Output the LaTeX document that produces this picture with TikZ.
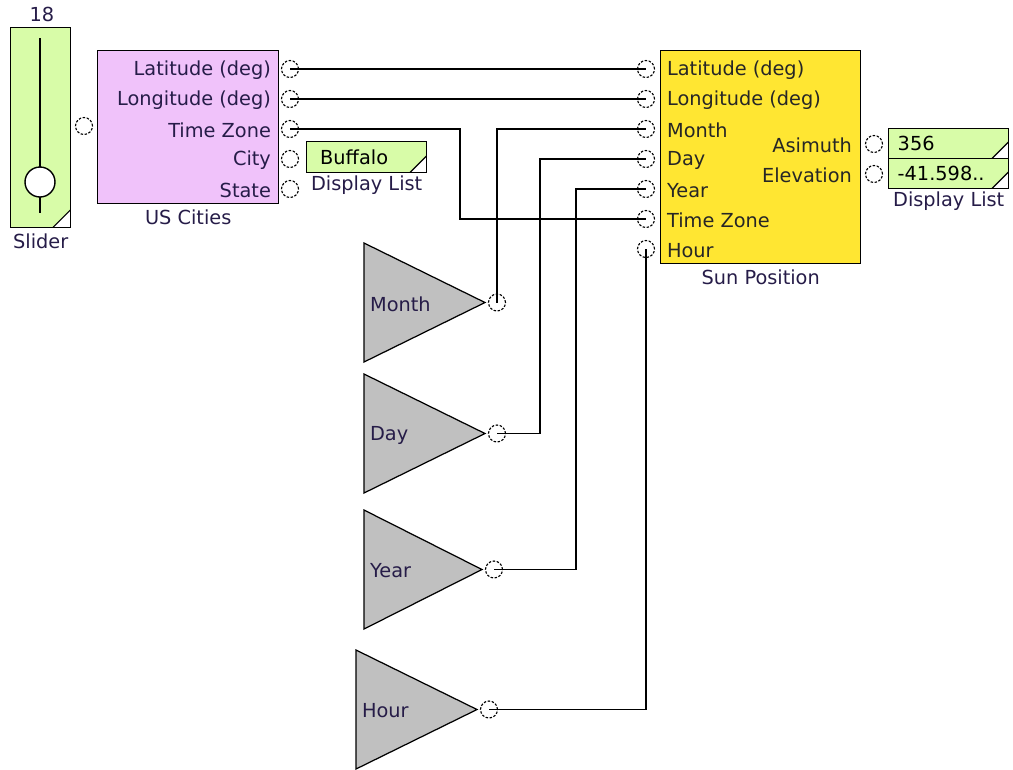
\documentclass[tikz,border=0pt]{standalone}
\usepackage{fontspec}
\setmainfont{DejaVu Sans}
\usetikzlibrary{calc,positioning}
\definecolor{sliderGreen}{RGB}{216,252,168}
\definecolor{cityPink}{RGB}{240,194,250}
\definecolor{sunYellow}{RGB}{255,230,50}
\definecolor{constGray}{RGB}{192,192,192}
\definecolor{labelInk}{RGB}{38,28,72}
\tikzset{blk/.style={draw,line width=0.8pt,inner sep=0pt,anchor=north west},
  corner/.style={path picture={\fill[white] (path picture bounding box.south east) -- ++(-#1,0cm) -- ++(#1,#1) -- cycle;
    \draw[line width=0.7pt] (path picture bounding box.south east) ++(-#1,0cm) -- ++(#1,#1);}},
  dispbox/.style={blk,fill=sliderGreen,corner=0.34cm,text width=2.4cm,font=\fontsize{11}{13}\selectfont,text=black,align=left},
  port/.style={circle,draw,fill=white,dash pattern=on 1.4pt off 0.9pt,line width=0.65pt,minimum size=0.34cm,inner sep=0pt},
  wire/.style={line width=0.8pt},
  lbl/.style={font=\fontsize{11}{13}\selectfont,inner sep=1pt,text=labelInk},
  konst/.style={draw,line width=0.7pt,fill=constGray}}

\begin{document}
\begin{tikzpicture}[x=0.02cm,y=-0.02cm]
\useasboundingbox (0,0) rectangle (1013,769);
% slider
\node[blk,fill=sliderGreen,corner=0.36cm,minimum width=1.2cm,minimum height=4cm] (slider) at (10,27) {};
\draw[line width=0.8pt] (40,38) -- (40,213);
\node[circle,draw,fill=white,line width=0.8pt,minimum size=0.6cm,inner sep=0pt] (knob) at (40,182) {};
\node[lbl] (sliderVal) at (42,14) {18};
\node[lbl,below=2pt of slider] (sliderCap) {Slider};
\node[port] (sliderOut) at (84,126) {};
% US cities
\node[blk,fill=cityPink,minimum width=3.62cm,minimum height=3.06cm] (cities) at (97,50) {};
\node[lbl,below=2pt of cities] (citiesCap) {US Cities};
\foreach \y/\n/\t in {69/Lat/{Latitude (deg)},99/Lon/{Longitude (deg)},129/Tz/{Time Zone},159/City/City,189/State/State}{
  \node[lbl,anchor=east] (city\n Txt) at (273,\y+1.5) {\t};
  \node[port] (city\n) at (290,\y) {};
}
\node[dispbox,minimum height=0.62cm] (buffalo) at (306,141) {\hspace{0.27cm}Buffalo};
\node[lbl,anchor=north] (buffaloCap) at (buffalo.south) {Display List};
% sun position
\node[blk,fill=sunYellow,minimum width=4cm,minimum height=4.26cm] (sun) at (660,50) {};
\node[lbl,below=2pt of sun] (sunCap) {Sun Position};
\foreach \y/\n/\t in {69/Lat/{Latitude (deg)},99/Lon/{Longitude (deg)},129/Month/Month,159/Day/Day,189/Year/Year,219/Tz/{Time Zone},249/Hour/Hour}{
  \node[port] (sunIn\n) at (646,\y) {};
  \node[lbl,anchor=west,text=black!85] (sunIn\n Txt) at (665,\y+1.5) {\t};
}
\node[lbl,anchor=east,text=black!85] (asimTxt) at (854,145.5) {Asimuth};
\node[lbl,anchor=east,text=black!85] (elevTxt) at (854,175.5) {Elevation};
\node[port] (sunAsim) at (874,144) {};
\node[port] (sunElev) at (874,174) {};
\node[dispbox,minimum height=0.6cm] (asimBox) at (888,128) {\hspace{0.18cm}356};
\node[dispbox,minimum height=0.6cm] (elevBox) at (888,158) {\hspace{0.18cm}-41.598..};
\node[lbl,anchor=north] (elevCap) at (elevBox.south) {Display List};
% constants
\foreach \n/\xl/\yt/\xt in {Month/364/243/485,Day/364/374/485,Year/364/510/482,Hour/356/650/477}{
  \draw[konst] (\xl,\yt) -- (\xt,\yt+59.5) -- (\xl,\yt+119) -- cycle;
  \node[lbl,anchor=west] (const\n) at (\xl+4,\yt+61) {\n};
  \node[port] (src\n) at (\xt+12,\yt+59.5) {};
}
% wires
\coordinate (tzBend) at (460,0);
\coordinate (dayBend) at (540,0);
\coordinate (yearBend) at (576,0);
\draw[wire] (cityLat.center) -- (sunInLat.center);
\draw[wire] (cityLon.center) -- (sunInLon.center);
\draw[wire] (cityTz.center) -| (tzBend |- sunInTz) -- (sunInTz.center);
\draw[wire] (srcMonth.center) |- (sunInMonth.center);
\draw[wire] (srcDay.center) -| (dayBend |- sunInDay) -- (sunInDay.center);
\draw[wire] (srcYear.center) -| (yearBend |- sunInYear) -- (sunInYear.center);
\draw[wire] (srcHour.center) -| (sunInHour.center);
\end{tikzpicture}
\end{document}
